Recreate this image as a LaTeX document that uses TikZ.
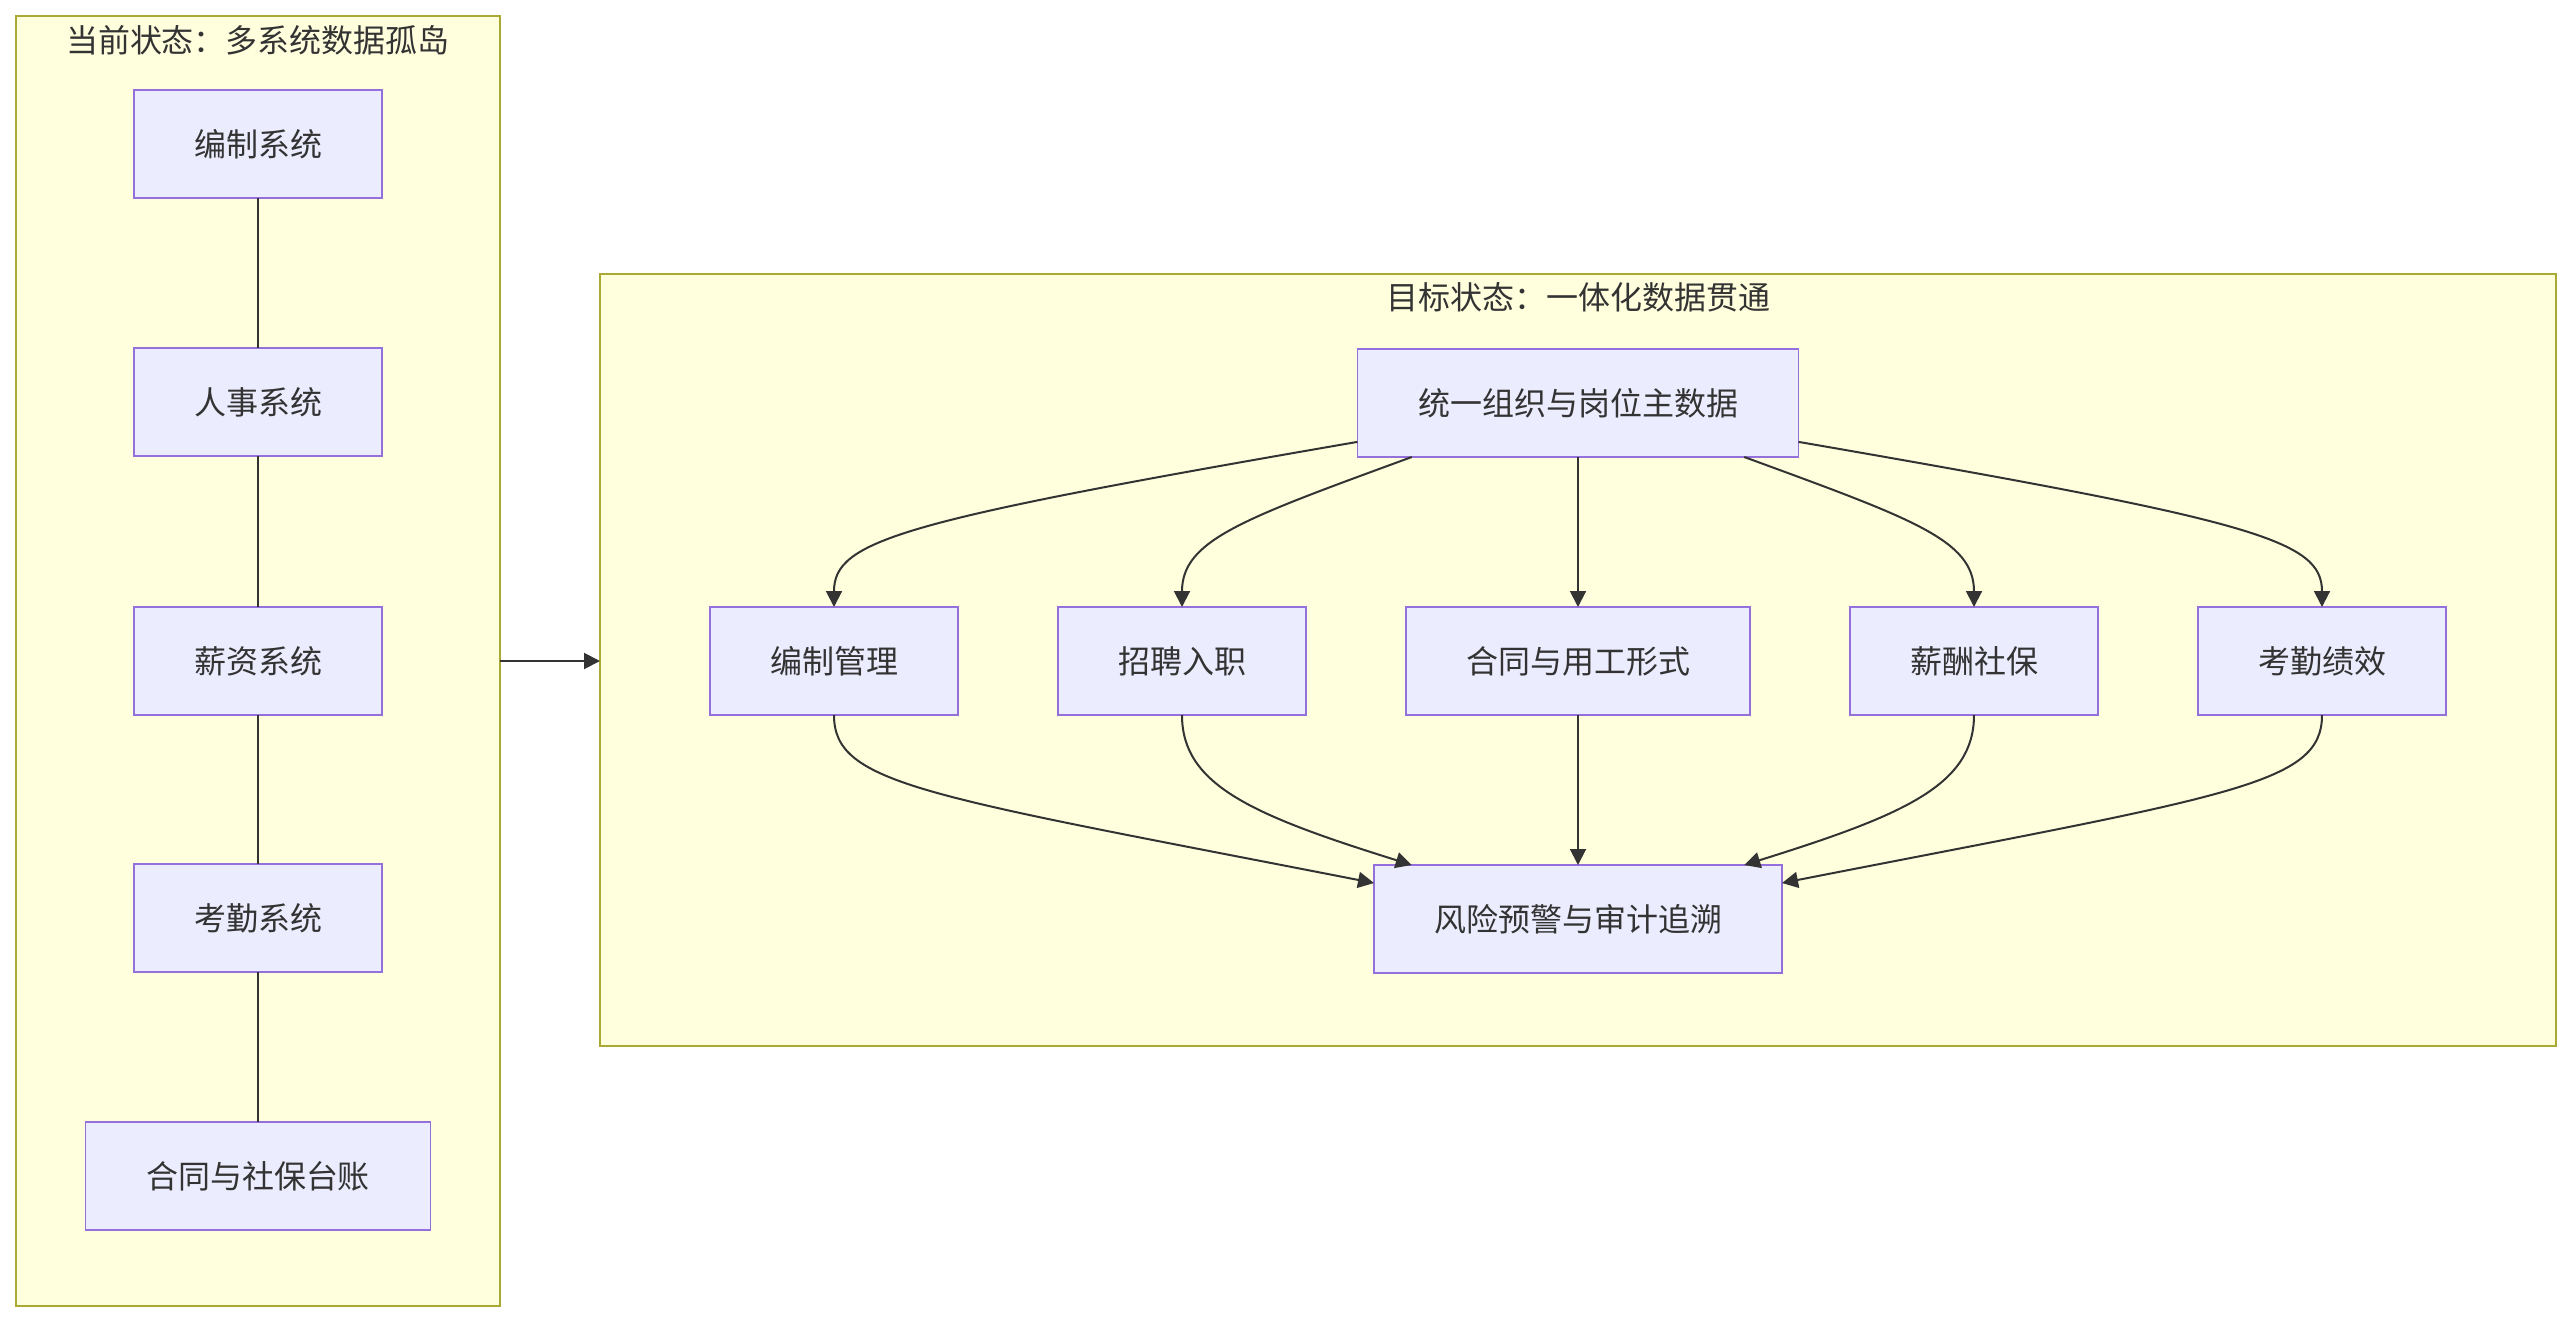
\documentclass[tikz,border=0pt]{standalone}
\usepackage{fontspec}
\setmainfont{Noto Sans CJK SC}
\usetikzlibrary{arrows.meta}
\definecolor{nodefill}{HTML}{ECECFF}
\definecolor{nodeline}{HTML}{9370DB}
\definecolor{grpfill}{HTML}{FFFFDE}
\definecolor{grpline}{HTML}{AAAA33}
\definecolor{ink}{HTML}{333333}

\begin{document}
\begin{tikzpicture}[
    x=0.5pt, y=0.5pt,
    box/.style={draw=nodeline, fill=nodefill, line width=0.75pt,
      minimum width=124pt, minimum height=54pt, inner sep=0pt,
      outer sep=0pt, text=ink, font=\fontsize{16}{19}\selectfont},
    grp/.style={draw=grpline, fill=grpfill, line width=1pt,
      inner sep=0pt, outer sep=0pt},
    ttl/.style={text=ink, font=\fontsize{16}{19}\selectfont},
    link/.style={ink, line width=1pt},
    arr/.style={link, -{Triangle[length=8pt, width=8pt]}},
  ]
  \useasboundingbox (0,0) rectangle (2572,-1322);

  % Clusters
  \node[grp, minimum width=242pt, minimum height=645pt]
    (cur) at (258,-661) {};
  \node[ttl] (curttl) at (258,-40) {当前状态：多系统数据孤岛};
  \node[grp, minimum width=978pt, minimum height=386pt]
    (tgt) at (1578,-660) {};
  \node[ttl] (tgtttl) at (1578,-297) {目标状态：一体化数据贯通};

  % Current state: chain of systems
  \foreach \y/\n/\w/\t in {-144/s1/124/编制系统, -402/s2/124/人事系统,
      -661/s3/124/薪资系统, -918/s4/124/考勤系统,
      -1176/s5/172.5/合同与社保台账} {
    \node[box, minimum width=\w pt] (\n) at (258,\y) {\t};
  }
  \foreach \a/\b in {s1/s2, s2/s3, s3/s4, s4/s5} {
    \draw[link] (\a) -- (\b);
  }

  % Target state
  \node[box, minimum width=220.5pt] (md) at (1578,-403) {统一组织与岗位主数据};
  \node[box] (bz) at (834,-661) {编制管理};
  \node[box] (zp) at (1182,-661) {招聘入职};
  \node[box, minimum width=172pt] (ht) at (1578,-661) {合同与用工形式};
  \node[box] (xc) at (1974,-661) {薪酬社保};
  \node[box] (kq) at (2322,-661) {考勤绩效};
  \node[box, minimum width=204pt] (fx) at (1578,-919) {风险预警与审计追溯};

  % Fan out
  \draw[arr] (md.190) .. controls +(-457,-79) and +(0,67) .. (bz.north);
  \draw[arr] (md.198) .. controls +(-169,-62) and +(0,67) .. (zp.north);
  \draw[arr] (md) -- (ht);
  \draw[arr] (md.342) .. controls +(169,-62) and +(0,67) .. (xc.north);
  \draw[arr] (md.350) .. controls +(457,-79) and +(0,67) .. (kq.north);

  % Fan in
  \draw[arr] (bz.south) .. controls +(0,-70) and +(-450,88) .. (fx.170);
  \draw[arr] (zp.south) .. controls +(0,-70) and +(-160,50) .. (fx.162);
  \draw[arr] (ht) -- (fx);
  \draw[arr] (xc.south) .. controls +(0,-70) and +(160,50) .. (fx.18);
  \draw[arr] (kq.south) .. controls +(0,-70) and +(450,88) .. (fx.10);

  % Current -> target
  \draw[arr] (cur.east) -- (cur.east -| tgt.west);

\end{tikzpicture}
\end{document}
